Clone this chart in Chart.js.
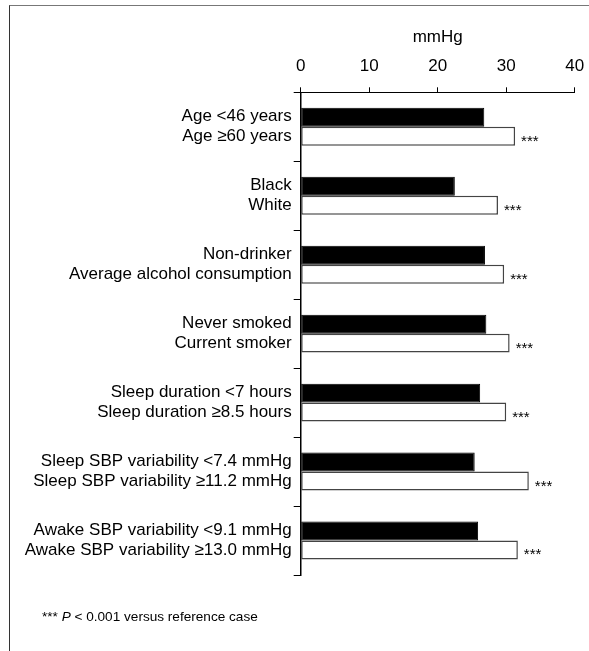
<!DOCTYPE html>
<html>
<head>
<meta charset="utf-8">
<script src="https://cdn.jsdelivr.net/npm/chart.js@4/dist/chart.umd.min.js"></script>
<style>
  html, body { margin: 0; padding: 0; background: #fff; }
  #wrap { position: relative; width: 589px; height: 651px; overflow: hidden; }
  #frame { position: absolute; left: 9px; top: 5px; width: 800px; height: 800px;
           border-left: 1.5px solid #333; border-top: 1.5px solid #777; }
  #c { position: absolute; left: 0; top: 0; }
  #note { position: absolute; left: 42px; top: 609px; font: 13.6px/16px "Liberation Sans", Arial, Helvetica, sans-serif; color: #000; white-space: nowrap; }
</style>
</head>
<body>
<div id="wrap">
  <div id="frame"></div>
  <canvas id="c" width="589" height="651"></canvas>
  <div id="note">*** <i>P</i> &lt; 0.001 versus reference case</div>
</div>
<script>
const categories = [
  ['Age <46 years', 'Age \u226560 years'],
  ['Black', 'White'],
  ['Non-drinker', 'Average alcohol consumption'],
  ['Never smoked', 'Current smoker'],
  ['Sleep duration <7 hours', 'Sleep duration \u22658.5 hours'],
  ['Sleep SBP variability <7.4 mmHg', 'Sleep SBP variability \u226511.2 mmHg'],
  ['Awake SBP variability <9.1 mmHg', 'Awake SBP variability \u226513.0 mmHg']
];
const referenceValues = [26.8, 22.5, 26.9, 27.1, 26.2, 25.4, 25.9];
const comparisonValues = [31.3, 28.8, 29.7, 30.5, 30.0, 33.3, 31.7];
const significance = ['***', '***', '***', '***', '***', '***', '***'];
const xTicks = [0, 10, 20, 30, 40];
const axisTitle = 'mmHg';

const FONT = '"Liberation Sans", Arial, Helvetica, sans-serif';

const starsPlugin = {
  id: 'stars',
  afterDatasetsDraw(chart) {
    const meta = chart.getDatasetMeta(1);
    const ctx = chart.ctx;
    ctx.save();
    ctx.font = '15px ' + FONT;
    ctx.fillStyle = '#000';
    ctx.textAlign = 'left';
    ctx.textBaseline = 'alphabetic';
    meta.data.forEach((bar, i) => {
      const s = significance[i];
      if (!s) return;
      ctx.fillText(s, bar.x + 6, bar.y + bar.height / 2);
    });
    ctx.restore();
  }
};

new Chart(document.getElementById('c'), {
  type: 'bar',
  data: {
    labels: categories,
    datasets: [
      {
        data: referenceValues,
        backgroundColor: '#000',
        borderColor: '#000',
        borderWidth: 1,
        borderSkipped: false,
        barPercentage: 1,
        categoryPercentage: 0.55
      },
      {
        data: comparisonValues,
        backgroundColor: '#fff',
        borderColor: '#444',
        borderWidth: 1.5,
        borderSkipped: false,
        barPercentage: 1,
        categoryPercentage: 0.55
      }
    ]
  },
  options: {
    indexAxis: 'y',
    responsive: false,
    animation: false,
    events: [],
    layout: { padding: { left: 0, right: 14.3, top: 0, bottom: 76 } },
    plugins: { legend: { display: false }, tooltip: { enabled: false } },
    scales: {
      x: {
        position: 'top',
        min: 0,
        max: 40,
        afterBuildTicks(scale) { scale.ticks = xTicks.map(v => ({ value: v })); },
        afterFit(scale) { scale.height = 92.3; scale.paddingLeft = 0; scale.paddingRight = 0; },
        grid: { drawOnChartArea: false, drawTicks: true, tickLength: 5, color: '#000', lineWidth: 1 },
        border: { display: true, color: '#000', width: 1 },
        ticks: { color: '#000', padding: 10.5, font: { family: FONT, size: 17 } },
        title: { display: true, text: axisTitle, color: '#000', padding: { top: 27, bottom: 0 }, font: { family: FONT, size: 17 } }
      },
      y: {
        afterFit(scale) { scale.width = 300.7; },
        grid: { drawOnChartArea: false, drawTicks: true, tickLength: 7, color: '#000', lineWidth: 1, offset: true },
        border: { display: true, color: '#000', width: 1.5 },
        ticks: { color: '#000', padding: 2, font: { family: FONT, size: 17, lineHeight: 1.18 } }
      }
    }
  },
  plugins: [starsPlugin]
});
</script>
</body>
</html>
